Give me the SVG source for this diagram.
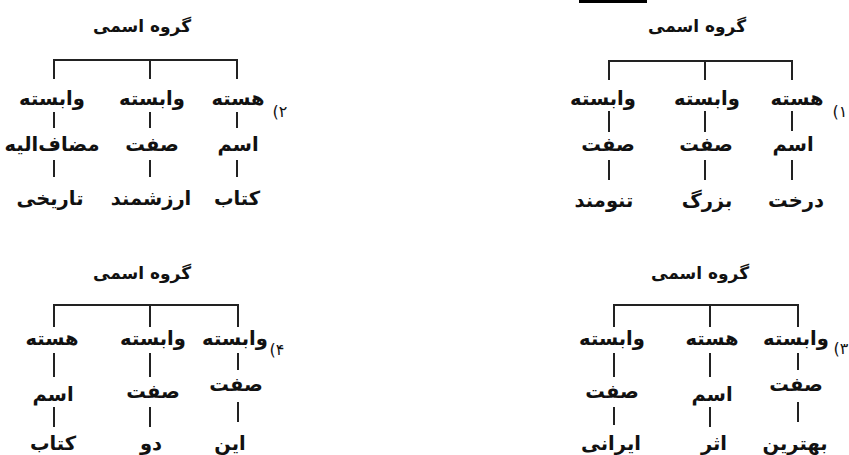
<svg xmlns="http://www.w3.org/2000/svg" width="849" height="455" viewBox="0 0 849 455">
<style>
text{font-family:"DejaVu Sans",sans-serif;font-weight:bold;font-size:19.5px;fill:#111;text-anchor:middle;direction:rtl}
.t{font-size:17px}
.n{font-size:16px;font-weight:normal}
.c{stroke:#222;stroke-width:2;fill:none}
</style>
<rect x="579" y="0" width="68" height="3" fill="#000"/>
<g id="d1">
<g id="d1-title"><text class="t" x="697" y="32">گروه اسمی</text></g>
<g id="d1-num"><text class="n" x="840" y="117">۱)</text></g>
<g id="d1-a1"><text x="797" y="105">هسته</text></g>
<g id="d1-b1"><text x="707" y="105">وابسته</text></g>
<g id="d1-c1"><text x="603" y="105">وابسته</text></g>
<g id="d1-a2"><text x="793" y="151">اسم</text></g>
<g id="d1-b2"><text x="706" y="151">صفت</text></g>
<g id="d1-c2"><text x="608" y="151">صفت</text></g>
<g id="d1-a3"><text x="796" y="207">درخت</text></g>
<g id="d1-b3"><text x="707" y="207">بزرگ</text></g>
<g id="d1-c3"><text x="604" y="207">تنومند</text></g>
</g>
<g id="d2">
<g id="d2-title"><text class="t" x="142" y="32">گروه اسمی</text></g>
<g id="d2-num"><text class="n" x="280" y="117">۲)</text></g>
<g id="d2-a1"><text x="238" y="105">هسته</text></g>
<g id="d2-b1"><text x="152" y="105">وابسته</text></g>
<g id="d2-c1"><text x="52" y="105">وابسته</text></g>
<g id="d2-a2"><text x="238" y="151">اسم</text></g>
<g id="d2-b2"><text x="152" y="151">صفت</text></g>
<g id="d2-c2"><text x="52" y="151">مضاف‌الیه</text></g>
<g id="d2-a3"><text x="237" y="205">کتاب</text></g>
<g id="d2-b3"><text x="151" y="205">ارزشمند</text></g>
<g id="d2-c3"><text x="50" y="205">تاریخی</text></g>
</g>
<g id="d3">
<g id="d3-title"><text class="t" x="700" y="279">گروه اسمی</text></g>
<g id="d3-num"><text class="n" x="841" y="354">۳)</text></g>
<g id="d3-a1"><text x="796" y="345">وابسته</text></g>
<g id="d3-b1"><text x="712" y="345">هسته</text></g>
<g id="d3-c1"><text x="612" y="345">وابسته</text></g>
<g id="d3-a2"><text x="796" y="391">صفت</text></g>
<g id="d3-b2"><text x="712" y="401">اسم</text></g>
<g id="d3-c2"><text x="612" y="398">صفت</text></g>
<g id="d3-a3"><text x="795" y="450">بهترین</text></g>
<g id="d3-b3"><text x="714" y="450">اثر</text></g>
<g id="d3-c3"><text x="611" y="450">ایرانی</text></g>
</g>
<g id="d4">
<g id="d4-title"><text class="t" x="142" y="279">گروه اسمی</text></g>
<g id="d4-num"><text class="n" x="277" y="355">۴)</text></g>
<g id="d4-a1"><text x="235" y="345">وابسته</text></g>
<g id="d4-b1"><text x="153" y="345">وابسته</text></g>
<g id="d4-c1"><text x="52" y="345">هسته</text></g>
<g id="d4-a2"><text x="236" y="391">صفت</text></g>
<g id="d4-b2"><text x="153" y="398">صفت</text></g>
<g id="d4-c2"><text x="53" y="401">اسم</text></g>
<g id="d4-a3"><text x="230" y="450">این</text></g>
<g id="d4-b3"><text x="151" y="450">دو</text></g>
<g id="d4-c3"><text x="53" y="450">کتاب</text></g>
</g>
<g id="connectors" class="c">
<path d="M609 80V61H792V80M705 61V80"/>
<path d="M609 111V132M705 111V132M792 111V131M609 160V180M705 160V180M792 160V180"/>
<path d="M54 79V60H237V79M150 60V79"/>
<path d="M54 112V128M150 112V128M237 112V128M54 160V177M150 160V177M237 160V177"/>
<path d="M614 327V305H798V327M710 305V327"/>
<path d="M614 353V377M710 353V377M798 353V370M614 407V425M710 407V427M798 402V422"/>
<path d="M54 327V305H238V327M150 305V327"/>
<path d="M54 353V377M150 353V377M238 353V370M54 407V427M150 407V427M238 402V422"/>
</g>
</svg>
